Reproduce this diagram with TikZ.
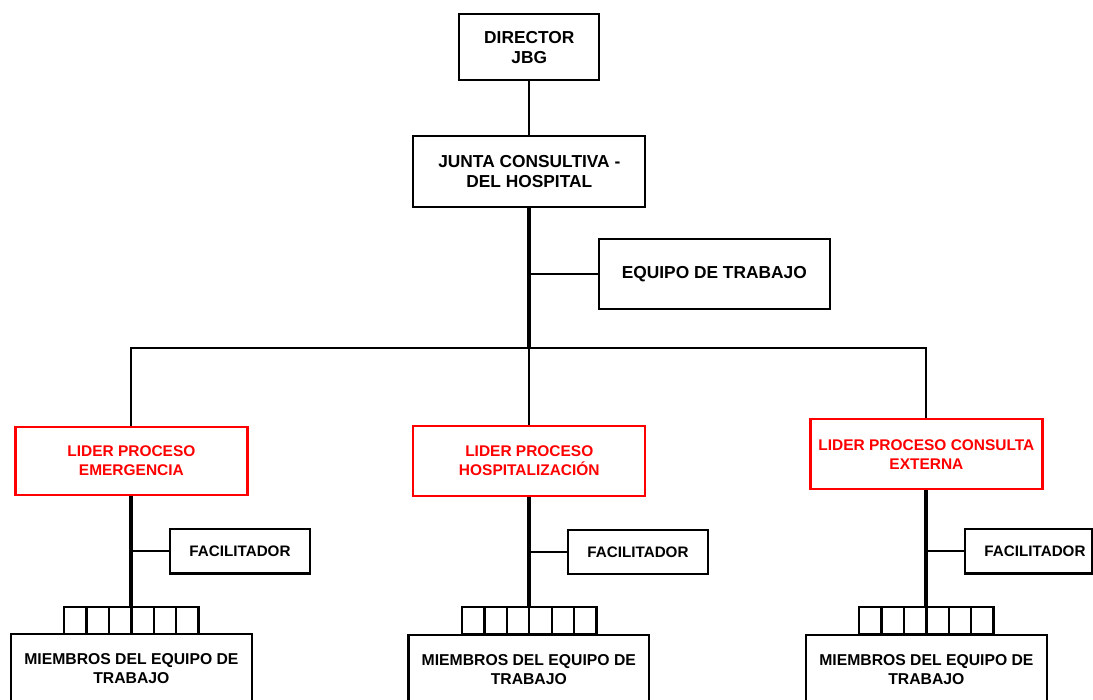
\documentclass[tikz,border=0pt]{standalone}
\usepackage{fontspec}
\setmainfont{Liberation Sans}
\usepackage{tikz}
\usetikzlibrary{positioning}
\definecolor{lider}{RGB}{255,0,0}
\tikzstyle{box} = [draw, rectangle, line width=1.7pt, inner sep=0pt, align=center, font=\bfseries\fontsize{13}{15}\selectfont]
\tikzstyle{redbox} = [box, draw=lider, text=lider, minimum width=174pt, font=\bfseries\fontsize{11.6}{14.3}\selectfont]
\tikzstyle{facbox} = [box, minimum width=104.5pt, minimum height=33.2pt, font=\bfseries\fontsize{11.4}{14}\selectfont]
\tikzstyle{teambox} = [box, minimum width=180.5pt, minimum height=51.75pt, font=\bfseries\fontsize{11.8}{14.3}\selectfont]
\tikzstyle{cell} = [draw, rectangle, line width=1.7pt, inner sep=0pt, minimum width=16.8pt, minimum height=20.25pt]
\tikzstyle{thinline} = [line width=1.5pt]
\tikzstyle{thickline} = [line width=3pt]

\begin{document}
\begin{tikzpicture}[x=0.75pt,y=-0.75pt]
\useasboundingbox (0,0) rectangle (1093,700);

\node[box, minimum width=105pt, minimum height=49.5pt] (dir) at (529.3,47.3) {DIRECTOR\\JBG};
\node[box, minimum width=174pt, minimum height=53.25pt] (junta) at (529.3,171.5) {JUNTA CONSULTIVA -\\DEL HOSPITAL};
\node[box, minimum width=173.25pt, minimum height=52.5pt] (equipo) at (714.3,274.3) {EQUIPO DE TRABAJO};
\coordinate (bar) at (529.3,348.3);

\draw[thinline] (dir.south) -- (junta.north);
\draw[thickline] (junta.south) -- (bar);
\draw[thinline] (equipo.west) -- (equipo.west -| junta.south);

% lideres de proceso
\node[redbox, minimum height=51pt] (emerg) at (131.4,461) {LIDER PROCESO\\EMERGENCIA};
\node[redbox, minimum height=52pt] (hosp) at (529.3,461) {LIDER PROCESO\\HOSPITALIZACIÓN};
\node[redbox, minimum height=52.5pt] (cext) at (926.4,454.2) {LIDER PROCESO CONSULTA\\EXTERNA};

\draw[thinline] (emerg.north) |- (bar) -| (cext.north);
\draw[thinline] (bar) -- (hosp.north);

% facilitadores
\node[facbox] (facA) at (240,551.3) {FACILITADOR};
\node[facbox] (facB) at (638,551.8) {FACILITADOR};
\node[facbox, minimum width=95.25pt] (facC) at (1028.5,551.3) {\hspace*{9.75pt}FACILITADOR};

% miembros del equipo
\node[teambox] (teamA) at (131.4,668.7) {MIEMBROS DEL EQUIPO DE\\TRABAJO};
\node[teambox] (teamB) at (528.8,669.3) {MIEMBROS DEL EQUIPO DE\\TRABAJO};
\node[teambox] (teamC) at (926.4,669.3) {MIEMBROS DEL EQUIPO DE\\TRABAJO};

\foreach \g/\cx in {A/131.4, B/529.3, C/926.4}
  \foreach \i in {0,...,5}
    \node[cell] (cell\g\i) at (\cx-56+22.4*\i,620.5) {};

\draw[thickline] (emerg.south) -- (emerg.south |- cellA2.north);
\draw[thickline] (hosp.south) -- (hosp.south |- cellB2.north);
\draw[thickline] (cext.south) -- (cext.south |- cellC2.north);

\draw[thinline] (facA.west) -- (facA.west -| emerg.south);
\draw[thinline] (facB.west) -- (facB.west -| hosp.south);
\draw[thinline] (facC.west) -- (facC.west -| cext.south);
\end{tikzpicture}
\end{document}
